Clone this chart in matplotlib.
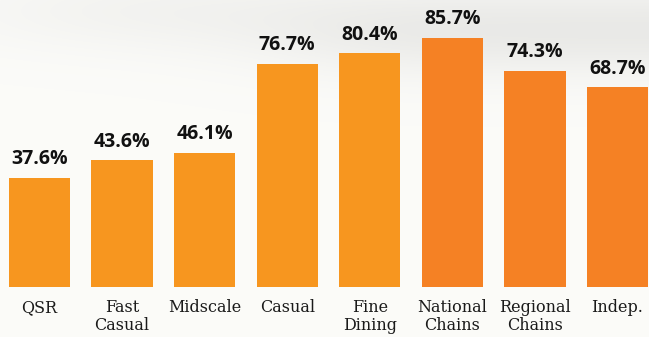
import numpy as np
import matplotlib.pyplot as plt

categories = ['QSR', 'Fast\nCasual', 'Midscale', 'Casual', 'Fine\nDining',
              'National\nChains', 'Regional\nChains', 'Indep.']
values = [37.6, 43.6, 46.1, 76.7, 80.4, 85.7, 74.3, 68.7]
colors = ['#F7961F'] * 5 + ['#F58124'] * 3

W, H = 649, 337
fig = plt.figure(figsize=(W / 100, H / 100), dpi=100)

# soft blurred backdrop (faint photo feel at the top)
bg = fig.add_axes([0, 0, 1, 1], zorder=0)
yy, xx = np.mgrid[0:H, 0:W]
shade = np.full((H, W), 0.985)
shade -= 0.07 * np.exp(-((yy - 30) / 45.0) ** 2) * (1 / (1 + np.exp(-(xx - 300) / 60.0)))
shade -= 0.03 * np.exp(-((yy - 10) / 40.0) ** 2) * np.exp(-((xx - 150) / 200.0) ** 2)
rgb = np.dstack([shade, shade, shade * 0.99])
bg.imshow(np.clip(rgb, 0, 1), aspect='auto', interpolation='bilinear')
bg.axis('off')

ax = fig.add_axes([0, 50 / H, 1, 287 / H], zorder=1)
ax.patch.set_alpha(0)
x = np.arange(len(values))
ax.bar(x, values, width=0.74, color=colors)
ax.set_xlim(-0.478, 7.381)
ax.set_ylim(0, 98.6)

for xi, v in zip(x, values):
    ax.annotate(f'{v:.1f}%', (xi, v), xytext=(0, 6), textcoords='offset points',
                ha='center', va='bottom', fontsize=14, fontweight='bold',
                family='Open Sans', color='#111111')

ax.set_xticks(x)
ax.set_xticklabels(categories, fontsize=11.5, family='DejaVu Serif',
                   color='#1a1a1a', linespacing=1.05)
ax.tick_params(axis='x', length=0, pad=9)
ax.set_yticks([])
for s in ax.spines.values():
    s.set_visible(False)

fig.savefig('out.png', dpi=100)
